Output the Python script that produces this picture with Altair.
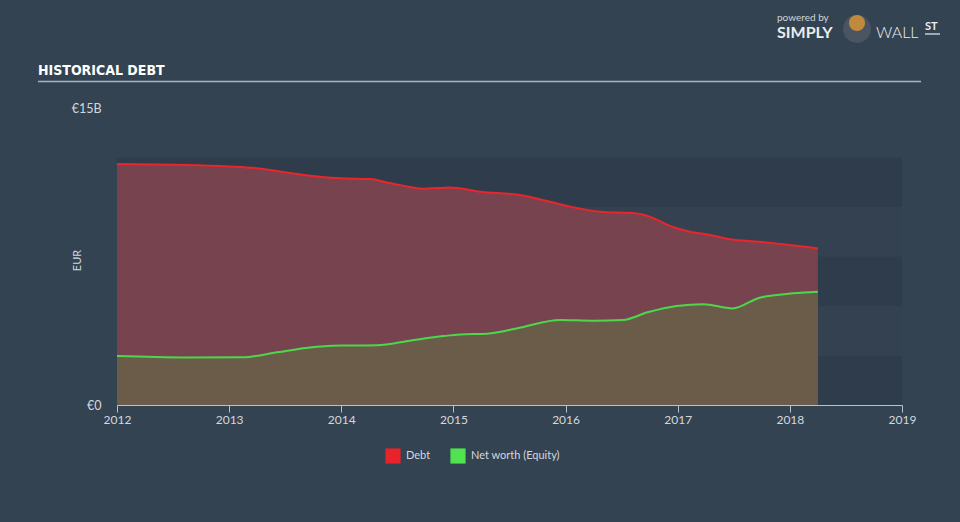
import altair as alt
import pandas as pd

# ---- data (values in billions of EUR) ----
debt_years = [2012.00, 2012.50, 2013.00, 2013.27, 2013.54, 2013.81, 2014.00, 2014.26,
              2014.43, 2014.55, 2014.72, 2014.97, 2015.24, 2015.59, 2015.86, 2016.04,
              2016.31, 2016.62, 2016.75, 2016.95, 2017.11, 2017.29, 2017.47, 2017.73,
              2018.00, 2018.25]
debt_values = [12.17, 12.13, 12.05, 11.95, 11.72, 11.53, 11.45, 11.41,
               11.21, 11.08, 10.92, 10.99, 10.77, 10.61, 10.27, 10.02,
               9.76, 9.68, 9.51, 9.00, 8.75, 8.59, 8.37, 8.25,
               8.08, 7.91]

equity_years = [2012.00, 2012.60, 2013.12, 2013.43, 2013.72, 2014.00, 2014.32, 2014.61,
                2014.91, 2015.06, 2015.30, 2015.59, 2015.95, 2016.24, 2016.51, 2016.73,
                2016.99, 2017.23, 2017.49, 2017.73, 2018.03, 2018.25]
equity_values = [2.47, 2.40, 2.41, 2.66, 2.91, 3.00, 3.02, 3.25,
                 3.48, 3.56, 3.60, 3.90, 4.29, 4.26, 4.29, 4.68,
                 5.00, 5.09, 4.88, 5.42, 5.64, 5.72]

x_ticks = [2012, 2013, 2014, 2015, 2016, 2017, 2018, 2019]
y_ticks = [0, 15]
band_lo = [0, 2.5, 5, 7.5, 10]
band_hi = [2.5, 5, 7.5, 10, 12.5]
band_shade = ["dark", "light", "dark", "light", "dark"]
legend_labels = ["Debt", "Net worth (Equity)"]

FONT = "Lato"
BG = "#344352"
TXT = "#d3d8de"

debt_df = pd.DataFrame({"year": debt_years, "value": debt_values})
eq_df = pd.DataFrame({"year": equity_years, "value": equity_values})
bands_df = pd.DataFrame({"lo": band_lo, "hi": band_hi, "shade": band_shade})

x_enc = alt.X("year:Q",
              scale=alt.Scale(domain=[2012, 2019], nice=False, zero=False),
              axis=alt.Axis(values=x_ticks, format="d", title=None, grid=False,
                            labelFlush=False, labelColor=TXT, labelFontSize=12,
                            labelFont=FONT, domainColor="#b9c2cb", tickColor="#b9c2cb",
                            tickSize=7, labelPadding=2))
y_enc = alt.Y("value:Q",
              scale=alt.Scale(domain=[0, 15], nice=False),
              axis=alt.Axis(values=y_ticks, title="EUR", grid=False, ticks=False,
                            domain=False, labelFlush=False,
                            labelExpr="datum.value == 0 ? '€0' : '€' + datum.value + 'B'",
                            labelColor=TXT, labelFontSize=12.5, labelFont=FONT,
                            labelPadding=16, titleColor=TXT, titleFont=FONT,
                            titleFontSize=11, titleFontWeight="normal",
                            titleX=-35, titleY=152))

base_band = alt.Chart(bands_df).encode(
    x=alt.datum(2012), x2=alt.datum(2019),
    y=alt.Y("lo:Q", scale=alt.Scale(domain=[0, 15], nice=False)), y2="hi:Q")
bands_dark = base_band.transform_filter(alt.datum.shade == "dark").mark_rect(color="#2f3c4b")
bands_light = base_band.transform_filter(alt.datum.shade == "light").mark_rect(color="#334151")

debt_area = alt.Chart(debt_df).mark_area(interpolate="monotone", color="#76434f").encode(x=x_enc, y=y_enc)
eq_area = alt.Chart(eq_df).mark_area(interpolate="monotone", color="#6b5c4a").encode(x=x_enc, y=y_enc)
debt_line = alt.Chart(debt_df).mark_line(interpolate="monotone", color="#e8262c", strokeWidth=2).encode(x=x_enc, y=y_enc)
eq_line = alt.Chart(eq_df).mark_line(interpolate="monotone", color="#4cd84c", strokeWidth=2).encode(x=x_enc, y=y_enc)

# ---- legend (manual) ----
leg1 = pd.DataFrame({"t": [legend_labels[0]]})
leg2 = pd.DataFrame({"t": [legend_labels[1]]})
leg_sq1 = alt.Chart(leg1).mark_square(color="#e8232a", size=230, opacity=1).encode(x=alt.value(276), y=alt.value(348))
leg_tx1 = alt.Chart(leg1).mark_text(align="left", baseline="middle", font=FONT, fontSize=11, color=TXT).encode(
    text="t:N", x=alt.value(289), y=alt.value(348))
leg_sq2 = alt.Chart(leg2).mark_square(color="#4fe34f", size=230, opacity=1).encode(x=alt.value(341), y=alt.value(348))
leg_tx2 = alt.Chart(leg2).mark_text(align="left", baseline="middle", font=FONT, fontSize=11, color=TXT).encode(
    text="t:N", x=alt.value(354), y=alt.value(348))

# ---- header ----
title = alt.Chart(pd.DataFrame({"t": ["HISTORICAL DEBT"]})).mark_text(
    align="left", baseline="alphabetic",
    font="'DejaVu Sans Condensed', 'Roboto Condensed', 'DejaVu Sans', sans-serif",
    fontWeight="bold", fontSize=14, color="#ffffff").encode(
    text="t:N", x=alt.value(-79), y=alt.value(-33))
title_rule = alt.Chart(pd.DataFrame({"a": [0]})).mark_rule(color="#aab2ba", strokeWidth=1.5).encode(
    x=alt.value(-79), x2=alt.value(804), y=alt.value(-26.5))

powered = alt.Chart(pd.DataFrame({"t": ["powered by"]})).mark_text(
    align="left", baseline="middle", font=FONT, fontSize=10, color="#cfd6dc").encode(
    text="t:N", x=alt.value(660), y=alt.value(-90))
simply = alt.Chart(pd.DataFrame({"t": ["SIMPLY"]})).mark_text(
    align="left", baseline="middle", font=FONT, fontSize=16, fontWeight="bold", color="#e9edf0").encode(
    text="t:N", x=alt.value(660), y=alt.value(-75))
icon_bg = alt.Chart(pd.DataFrame({"a": [0]})).mark_circle(color="#4a5561", size=780, opacity=1).encode(
    x=alt.value(740), y=alt.value(-79))
icon_head = alt.Chart(pd.DataFrame({"a": [0]})).mark_circle(color="#c08a3e", size=260, opacity=1).encode(
    x=alt.value(740), y=alt.value(-85))
wall = alt.Chart(pd.DataFrame({"t": ["WALL"]})).mark_text(
    align="left", baseline="middle", font=FONT, fontSize=16, fontWeight=300, color="#e9edf0").encode(
    text="t:N", x=alt.value(759), y=alt.value(-75))
st = alt.Chart(pd.DataFrame({"t": ["ST"]})).mark_text(
    align="left", baseline="middle", font=FONT, fontSize=11, fontWeight="bold", color="#e9edf0").encode(
    text="t:N", x=alt.value(808), y=alt.value(-81))
st_rule = alt.Chart(pd.DataFrame({"a": [0]})).mark_rule(color="#e9edf0", strokeWidth=1.2).encode(
    x=alt.value(808), x2=alt.value(823), y=alt.value(-74))

chart = alt.layer(
    bands_dark, bands_light, debt_area, eq_area, debt_line, eq_line,
    leg_sq1, leg_tx1, leg_sq2, leg_tx2,
    title, title_rule, powered, simply, icon_bg, icon_head, wall, st, st_rule
).properties(
    width=785, height=297,
    padding={"left": 117, "top": 108, "right": 58, "bottom": 117},
    autosize=alt.AutoSizeParams(type="none"),
    background=BG,
).configure_view(stroke=None)

chart.save("out.html", embed_options={"renderer": "svg", "actions": False})
